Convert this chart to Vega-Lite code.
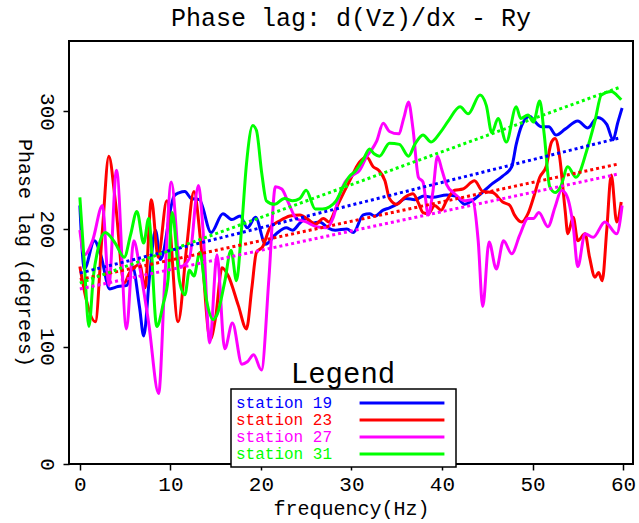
{
 "$schema": "https://vega.github.io/schema/vega-lite/v6.json",
 "width": 564, "height": 423,
 "autosize": "none",
 "padding": {"left": 69, "top": 41, "right": 6, "bottom": 59},
 "background": "white",
 "config": {
   "view": {"stroke": "black", "strokeWidth": 2},
   "font": "Liberation Mono"
 },
 "title": {"text": "Phase lag: d(Vz)/dx - Ry", "frame": "group", "font": "Liberation Mono", "fontSize": 25, "fontWeight": "normal", "color": "black", "baseline": "bottom", "offset": -15},
 "datasets": {
  "curves": [
   {"station":"station 19","freq":0,"phase":220},{"station":"station 19","freq":0.5,"phase":166},{"station":"station 19","freq":1.6,"phase":190},{"station":"station 19","freq":2.3,"phase":178},{"station":"station 19","freq":3.3,"phase":149},{"station":"station 19","freq":4.2,"phase":151},{"station":"station 19","freq":5.2,"phase":152},{"station":"station 19","freq":5.8,"phase":168},{"station":"station 19","freq":6.6,"phase":133},{"station":"station 19","freq":7.05,"phase":109},{"station":"station 19","freq":7.7,"phase":160},{"station":"station 19","freq":8.35,"phase":199},{"station":"station 19","freq":8.9,"phase":174},{"station":"station 19","freq":10.4,"phase":228},{"station":"station 19","freq":11.0,"phase":231},{"station":"station 19","freq":11.6,"phase":232},{"station":"station 19","freq":12.3,"phase":226},{"station":"station 19","freq":13.2,"phase":225},{"station":"station 19","freq":14.5,"phase":197},{"station":"station 19","freq":15.8,"phase":213},{"station":"station 19","freq":16.8,"phase":208},{"station":"station 19","freq":17.7,"phase":211},{"station":"station 19","freq":18.5,"phase":201},{"station":"station 19","freq":19.4,"phase":210},{"station":"station 19","freq":20.5,"phase":187},{"station":"station 19","freq":21.7,"phase":196},{"station":"station 19","freq":22.8,"phase":201},{"station":"station 19","freq":23.5,"phase":199},{"station":"station 19","freq":24.3,"phase":205},{"station":"station 19","freq":25.0,"phase":209},{"station":"station 19","freq":25.7,"phase":205},{"station":"station 19","freq":26.5,"phase":206},{"station":"station 19","freq":27.4,"phase":201},{"station":"station 19","freq":28.2,"phase":199},{"station":"station 19","freq":29.5,"phase":200},{"station":"station 19","freq":30.2,"phase":197},{"station":"station 19","freq":31.3,"phase":212},{"station":"station 19","freq":32.0,"phase":213},{"station":"station 19","freq":32.6,"phase":211},{"station":"station 19","freq":33.5,"phase":216},{"station":"station 19","freq":34.2,"phase":218},{"station":"station 19","freq":35.0,"phase":221},{"station":"station 19","freq":36.0,"phase":226},{"station":"station 19","freq":37.0,"phase":225},{"station":"station 19","freq":38.0,"phase":228},{"station":"station 19","freq":39.0,"phase":227},{"station":"station 19","freq":40.5,"phase":229},{"station":"station 19","freq":41.5,"phase":228},{"station":"station 19","freq":42.5,"phase":221},{"station":"station 19","freq":43.3,"phase":224},{"station":"station 19","freq":44.3,"phase":230},{"station":"station 19","freq":45.3,"phase":237},{"station":"station 19","freq":46.7,"phase":245},{"station":"station 19","freq":47.7,"phase":253},{"station":"station 19","freq":48.2,"phase":272},{"station":"station 19","freq":48.8,"phase":288},{"station":"station 19","freq":49.7,"phase":296},{"station":"station 19","freq":50.2,"phase":292},{"station":"station 19","freq":51.0,"phase":287},{"station":"station 19","freq":51.8,"phase":287},{"station":"station 19","freq":52.6,"phase":280},{"station":"station 19","freq":53.6,"phase":285},{"station":"station 19","freq":55.0,"phase":292},{"station":"station 19","freq":56.1,"phase":286},{"station":"station 19","freq":57.2,"phase":295},{"station":"station 19","freq":58.2,"phase":289},{"station":"station 19","freq":58.9,"phase":276},{"station":"station 19","freq":59.4,"phase":290},{"station":"station 19","freq":59.9,"phase":303},

   {"station":"station 23","freq":0,"phase":168},{"station":"station 23","freq":0.7,"phase":140},{"station":"station 23","freq":1.7,"phase":121},{"station":"station 23","freq":2.5,"phase":200},{"station":"station 23","freq":3.2,"phase":262},{"station":"station 23","freq":3.9,"phase":225},{"station":"station 23","freq":4.9,"phase":154},{"station":"station 23","freq":5.5,"phase":163},{"station":"station 23","freq":6.1,"phase":168},{"station":"station 23","freq":6.6,"phase":170},{"station":"station 23","freq":7.2,"phase":150},{"station":"station 23","freq":7.9,"phase":225},{"station":"station 23","freq":8.65,"phase":176},{"station":"station 23","freq":9.6,"phase":224},{"station":"station 23","freq":10.85,"phase":121},{"station":"station 23","freq":11.8,"phase":185},{"station":"station 23","freq":12.6,"phase":232},{"station":"station 23","freq":13.4,"phase":185},{"station":"station 23","freq":14.4,"phase":106},{"station":"station 23","freq":15.0,"phase":125},{"station":"station 23","freq":15.7,"phase":167},{"station":"station 23","freq":16.4,"phase":160},{"station":"station 23","freq":17.5,"phase":135},{"station":"station 23","freq":18.4,"phase":115},{"station":"station 23","freq":19.0,"phase":150},{"station":"station 23","freq":19.5,"phase":180},{"station":"station 23","freq":20.2,"phase":185},{"station":"station 23","freq":21.0,"phase":201},{"station":"station 23","freq":22.1,"phase":207},{"station":"station 23","freq":23.2,"phase":211},{"station":"station 23","freq":24.3,"phase":212},{"station":"station 23","freq":25.4,"phase":207},{"station":"station 23","freq":26.0,"phase":204},{"station":"station 23","freq":26.9,"phase":209},{"station":"station 23","freq":27.5,"phase":206},{"station":"station 23","freq":28.2,"phase":216},{"station":"station 23","freq":28.7,"phase":224},{"station":"station 23","freq":29.8,"phase":241},{"station":"station 23","freq":30.9,"phase":257},{"station":"station 23","freq":31.7,"phase":261},{"station":"station 23","freq":32.4,"phase":253},{"station":"station 23","freq":33.0,"phase":250},{"station":"station 23","freq":33.7,"phase":241},{"station":"station 23","freq":34.2,"phase":226},{"station":"station 23","freq":35.0,"phase":221},{"station":"station 23","freq":35.9,"phase":227},{"station":"station 23","freq":36.8,"phase":230},{"station":"station 23","freq":37.4,"phase":222},{"station":"station 23","freq":37.9,"phase":214},{"station":"station 23","freq":38.5,"phase":213},{"station":"station 23","freq":39.2,"phase":220},{"station":"station 23","freq":39.9,"phase":216},{"station":"station 23","freq":40.5,"phase":224},{"station":"station 23","freq":41.4,"phase":233},{"station":"station 23","freq":42.3,"phase":234},{"station":"station 23","freq":43.6,"phase":241},{"station":"station 23","freq":44.5,"phase":232},{"station":"station 23","freq":45.6,"phase":231},{"station":"station 23","freq":46.7,"phase":223},{"station":"station 23","freq":47.5,"phase":220},{"station":"station 23","freq":48.0,"phase":212},{"station":"station 23","freq":48.8,"phase":206},{"station":"station 23","freq":49.5,"phase":213},{"station":"station 23","freq":50.2,"phase":229},{"station":"station 23","freq":50.8,"phase":244},{"station":"station 23","freq":51.5,"phase":253},{"station":"station 23","freq":52.1,"phase":274},{"station":"station 23","freq":52.5,"phase":277},{"station":"station 23","freq":53.0,"phase":261},{"station":"station 23","freq":53.6,"phase":216},{"station":"station 23","freq":53.9,"phase":196},{"station":"station 23","freq":54.5,"phase":210},{"station":"station 23","freq":55.0,"phase":190},{"station":"station 23","freq":55.8,"phase":196},{"station":"station 23","freq":56.3,"phase":176},{"station":"station 23","freq":56.9,"phase":159},{"station":"station 23","freq":57.3,"phase":163},{"station":"station 23","freq":57.7,"phase":156},{"station":"station 23","freq":58.2,"phase":199},{"station":"station 23","freq":58.7,"phase":246},{"station":"station 23","freq":59.3,"phase":206},{"station":"station 23","freq":59.8,"phase":223},

   {"station":"station 27","freq":0,"phase":199},{"station":"station 27","freq":0.5,"phase":178},{"station":"station 27","freq":1.4,"phase":190},{"station":"station 27","freq":2.5,"phase":220},{"station":"station 27","freq":3.2,"phase":152},{"station":"station 27","freq":4.05,"phase":250},{"station":"station 27","freq":5.15,"phase":115},{"station":"station 27","freq":5.95,"phase":190},{"station":"station 27","freq":6.6,"phase":168},{"station":"station 27","freq":7.6,"phase":120},{"station":"station 27","freq":8.7,"phase":60},{"station":"station 27","freq":9.4,"phase":160},{"station":"station 27","freq":10.1,"phase":240},{"station":"station 27","freq":11.1,"phase":168},{"station":"station 27","freq":12.1,"phase":175},{"station":"station 27","freq":13.1,"phase":237},{"station":"station 27","freq":13.6,"phase":200},{"station":"station 27","freq":14.35,"phase":103},{"station":"station 27","freq":15.15,"phase":178},{"station":"station 27","freq":16.0,"phase":98},{"station":"station 27","freq":16.85,"phase":120},{"station":"station 27","freq":17.9,"phase":85},{"station":"station 27","freq":18.5,"phase":87},{"station":"station 27","freq":19.2,"phase":93},{"station":"station 27","freq":20.05,"phase":80},{"station":"station 27","freq":20.9,"phase":160},{"station":"station 27","freq":21.6,"phase":236},{"station":"station 27","freq":22.3,"phase":234},{"station":"station 27","freq":23.0,"phase":223},{"station":"station 27","freq":23.9,"phase":209},{"station":"station 27","freq":25.0,"phase":206},{"station":"station 27","freq":26.1,"phase":202},{"station":"station 27","freq":27.2,"phase":201},{"station":"station 27","freq":28.0,"phase":210},{"station":"station 27","freq":28.6,"phase":227},{"station":"station 27","freq":29.3,"phase":240},{"station":"station 27","freq":30.2,"phase":246},{"station":"station 27","freq":30.9,"phase":250},{"station":"station 27","freq":31.7,"phase":262},{"station":"station 27","freq":32.2,"phase":267},{"station":"station 27","freq":32.8,"phase":275},{"station":"station 27","freq":33.5,"phase":290},{"station":"station 27","freq":34.2,"phase":283},{"station":"station 27","freq":35.2,"phase":281},{"station":"station 27","freq":35.8,"phase":295},{"station":"station 27","freq":36.3,"phase":308},{"station":"station 27","freq":36.8,"phase":285},{"station":"station 27","freq":37.4,"phase":244},{"station":"station 27","freq":37.9,"phase":240},{"station":"station 27","freq":38.5,"phase":212},{"station":"station 27","freq":39.0,"phase":232},{"station":"station 27","freq":39.5,"phase":262},{"station":"station 27","freq":40.0,"phase":250},{"station":"station 27","freq":40.5,"phase":238},{"station":"station 27","freq":41.4,"phase":230},{"station":"station 27","freq":42.5,"phase":224},{"station":"station 27","freq":43.3,"phase":225},{"station":"station 27","freq":44.0,"phase":190},{"station":"station 27","freq":44.5,"phase":134},{"station":"station 27","freq":45.2,"phase":189},{"station":"station 27","freq":46.0,"phase":166},{"station":"station 27","freq":46.8,"phase":190},{"station":"station 27","freq":47.7,"phase":179},{"station":"station 27","freq":48.6,"phase":195},{"station":"station 27","freq":49.5,"phase":209},{"station":"station 27","freq":50.1,"phase":209},{"station":"station 27","freq":50.7,"phase":214},{"station":"station 27","freq":51.7,"phase":202},{"station":"station 27","freq":52.5,"phase":219},{"station":"station 27","freq":53.2,"phase":233},{"station":"station 27","freq":53.8,"phase":228},{"station":"station 27","freq":54.5,"phase":202},{"station":"station 27","freq":55.0,"phase":168},{"station":"station 27","freq":55.8,"phase":196},{"station":"station 27","freq":56.7,"phase":193},{"station":"station 27","freq":58.0,"phase":206},{"station":"station 27","freq":59.3,"phase":196},{"station":"station 27","freq":59.9,"phase":220},

   {"station":"station 31","freq":0,"phase":227},{"station":"station 31","freq":0.5,"phase":170},{"station":"station 31","freq":1.0,"phase":117},{"station":"station 31","freq":1.5,"phase":160},{"station":"station 31","freq":2.1,"phase":186},{"station":"station 31","freq":2.8,"phase":197},{"station":"station 31","freq":3.9,"phase":188},{"station":"station 31","freq":4.9,"phase":176},{"station":"station 31","freq":5.6,"phase":195},{"station":"station 31","freq":6.3,"phase":215},{"station":"station 31","freq":7.05,"phase":188},{"station":"station 31","freq":7.6,"phase":209},{"station":"station 31","freq":8.5,"phase":117},{"station":"station 31","freq":9.2,"phase":136},{"station":"station 31","freq":9.75,"phase":158},{"station":"station 31","freq":10.2,"phase":214},{"station":"station 31","freq":11.0,"phase":156},{"station":"station 31","freq":11.6,"phase":144},{"station":"station 31","freq":12.1,"phase":165},{"station":"station 31","freq":12.6,"phase":160},{"station":"station 31","freq":13.25,"phase":180},{"station":"station 31","freq":14.0,"phase":139},{"station":"station 31","freq":14.7,"phase":123},{"station":"station 31","freq":15.2,"phase":128},{"station":"station 31","freq":16.0,"phase":155},{"station":"station 31","freq":16.7,"phase":182},{"station":"station 31","freq":17.3,"phase":156},{"station":"station 31","freq":17.85,"phase":199},{"station":"station 31","freq":18.4,"phase":255},{"station":"station 31","freq":19.1,"phase":288},{"station":"station 31","freq":19.5,"phase":284},{"station":"station 31","freq":20.1,"phase":247},{"station":"station 31","freq":20.6,"phase":224},{"station":"station 31","freq":21.5,"phase":221},{"station":"station 31","freq":22.6,"phase":226},{"station":"station 31","freq":23.5,"phase":224},{"station":"station 31","freq":24.3,"phase":226},{"station":"station 31","freq":25.0,"phase":233},{"station":"station 31","freq":26.0,"phase":217},{"station":"station 31","freq":26.8,"phase":217},{"station":"station 31","freq":27.6,"phase":219},{"station":"station 31","freq":28.3,"phase":224},{"station":"station 31","freq":29.1,"phase":236},{"station":"station 31","freq":29.8,"phase":245},{"station":"station 31","freq":30.4,"phase":249},{"station":"station 31","freq":31.3,"phase":259},{"station":"station 31","freq":32.0,"phase":268},{"station":"station 31","freq":32.5,"phase":264},{"station":"station 31","freq":33.1,"phase":262},{"station":"station 31","freq":34.2,"phase":273},{"station":"station 31","freq":35.3,"phase":272},{"station":"station 31","freq":36.3,"phase":262},{"station":"station 31","freq":37.0,"phase":272},{"station":"station 31","freq":37.9,"phase":280},{"station":"station 31","freq":38.8,"phase":274},{"station":"station 31","freq":39.8,"phase":282},{"station":"station 31","freq":40.7,"phase":292},{"station":"station 31","freq":42.0,"phase":304},{"station":"station 31","freq":42.9,"phase":298},{"station":"station 31","freq":44.2,"phase":314},{"station":"station 31","freq":44.9,"phase":305},{"station":"station 31","freq":45.5,"phase":282},{"station":"station 31","freq":46.2,"phase":294},{"station":"station 31","freq":47.1,"phase":274},{"station":"station 31","freq":48.2,"phase":304},{"station":"station 31","freq":48.7,"phase":294},{"station":"station 31","freq":49.5,"phase":297},{"station":"station 31","freq":50.1,"phase":291},{"station":"station 31","freq":50.8,"phase":309},{"station":"station 31","freq":51.3,"phase":280},{"station":"station 31","freq":51.9,"phase":236},{"station":"station 31","freq":52.5,"phase":231},{"station":"station 31","freq":53.1,"phase":236},{"station":"station 31","freq":53.9,"phase":253},{"station":"station 31","freq":54.8,"phase":244},{"station":"station 31","freq":56.0,"phase":267},{"station":"station 31","freq":56.9,"phase":292},{"station":"station 31","freq":57.6,"phase":314},{"station":"station 31","freq":58.7,"phase":317},{"station":"station 31","freq":59.3,"phase":314},{"station":"station 31","freq":59.8,"phase":310}
  ],
  "fits": [
   {"station":"station 19","freq":0,"phase":162.5},{"station":"station 19","freq":59.6,"phase":277.5},
   {"station":"station 23","freq":0,"phase":157},{"station":"station 23","freq":59.6,"phase":255.5},
   {"station":"station 27","freq":0,"phase":149},{"station":"station 27","freq":59.6,"phase":247},
   {"station":"station 31","freq":0,"phase":154},{"station":"station 31","freq":59.6,"phase":320.5}
  ]
 },
 "layer": [
  {
   "data": {"name": "curves"},
   "mark": {"type": "line", "interpolate": "monotone", "strokeWidth": 3},
   "encoding": {
    "x": {"field": "freq", "type": "quantitative",
      "scale": {"domain": [-1.2, 61.1], "nice": false, "zero": false},
      "axis": {"values": [0,10,20,30,40,50,60], "title": "frequency(Hz)", "grid": false, "domain": false,
        "tickColor": "black", "tickWidth": 1.5, "tickSize": 6,
        "labelFont": "Liberation Mono", "labelFontSize": 21, "labelColor": "black", "labelPadding": 3,
        "titleFont": "Liberation Mono", "titleFontSize": 20, "titleFontWeight": "normal", "titleColor": "black", "titlePadding": 4}},
    "y": {"field": "phase", "type": "quantitative",
      "scale": {"domain": [0, 360], "nice": false},
      "axis": {"values": [0,100,200,300], "title": "Phase lag (degrees)", "grid": false, "domain": false,
        "tickColor": "black", "tickWidth": 1.5, "tickSize": 6,
        "labelFont": "Liberation Mono", "labelFontSize": 21, "labelColor": "black", "labelPadding": 6,
        "labelAngle": 90, "labelAlign": "center", "labelBaseline": "top",
        "titleFont": "Liberation Mono", "titleFontSize": 20, "titleFontWeight": "normal", "titleColor": "black",
        "titleAngle": 90, "titleBaseline": "top", "titlePadding": 2}},
    "color": {"field": "station", "type": "nominal",
      "scale": {"domain": ["station 19","station 23","station 27","station 31"], "range": ["#0000ff","#ff0000","#ff00ff","#00ff00"]},
      "legend": {"orient": "none", "legendX": 162, "legendY": 348, "direction": "vertical",
        "title": "Legend", "titleFont": "Liberation Mono", "titleFontSize": 29, "titleFontWeight": "normal", "titleColor": "black",
        "titleAnchor": "middle", "titlePadding": -29,
        "strokeColor": "black", "fillColor": "white", "padding": 5,
        "symbolType": "M-6,0L6,0", "symbolSize": 200, "symbolStrokeWidth": 3,
        "labelFont": "Liberation Mono", "labelFontSize": 16, "rowPadding": 0,
        "encode": {
          "legend": {"update": {"strokeWidth": {"value": 1.5}}},
          "title": {"update": {"dy": {"value": -34}}},
          "symbols": {"update": {"x": {"value": 166}}},
          "labels": {"update": {"x": {"value": 0}, "fill": {"scale": "color", "field": "value"}}}
        }}}
   }
  },
  {
   "data": {"name": "fits"},
   "mark": {"type": "line", "strokeDash": [3, 3], "strokeWidth": 3},
   "encoding": {
    "x": {"field": "freq", "type": "quantitative"},
    "y": {"field": "phase", "type": "quantitative"},
    "color": {"field": "station", "type": "nominal"}
   }
  }
 ]
}
